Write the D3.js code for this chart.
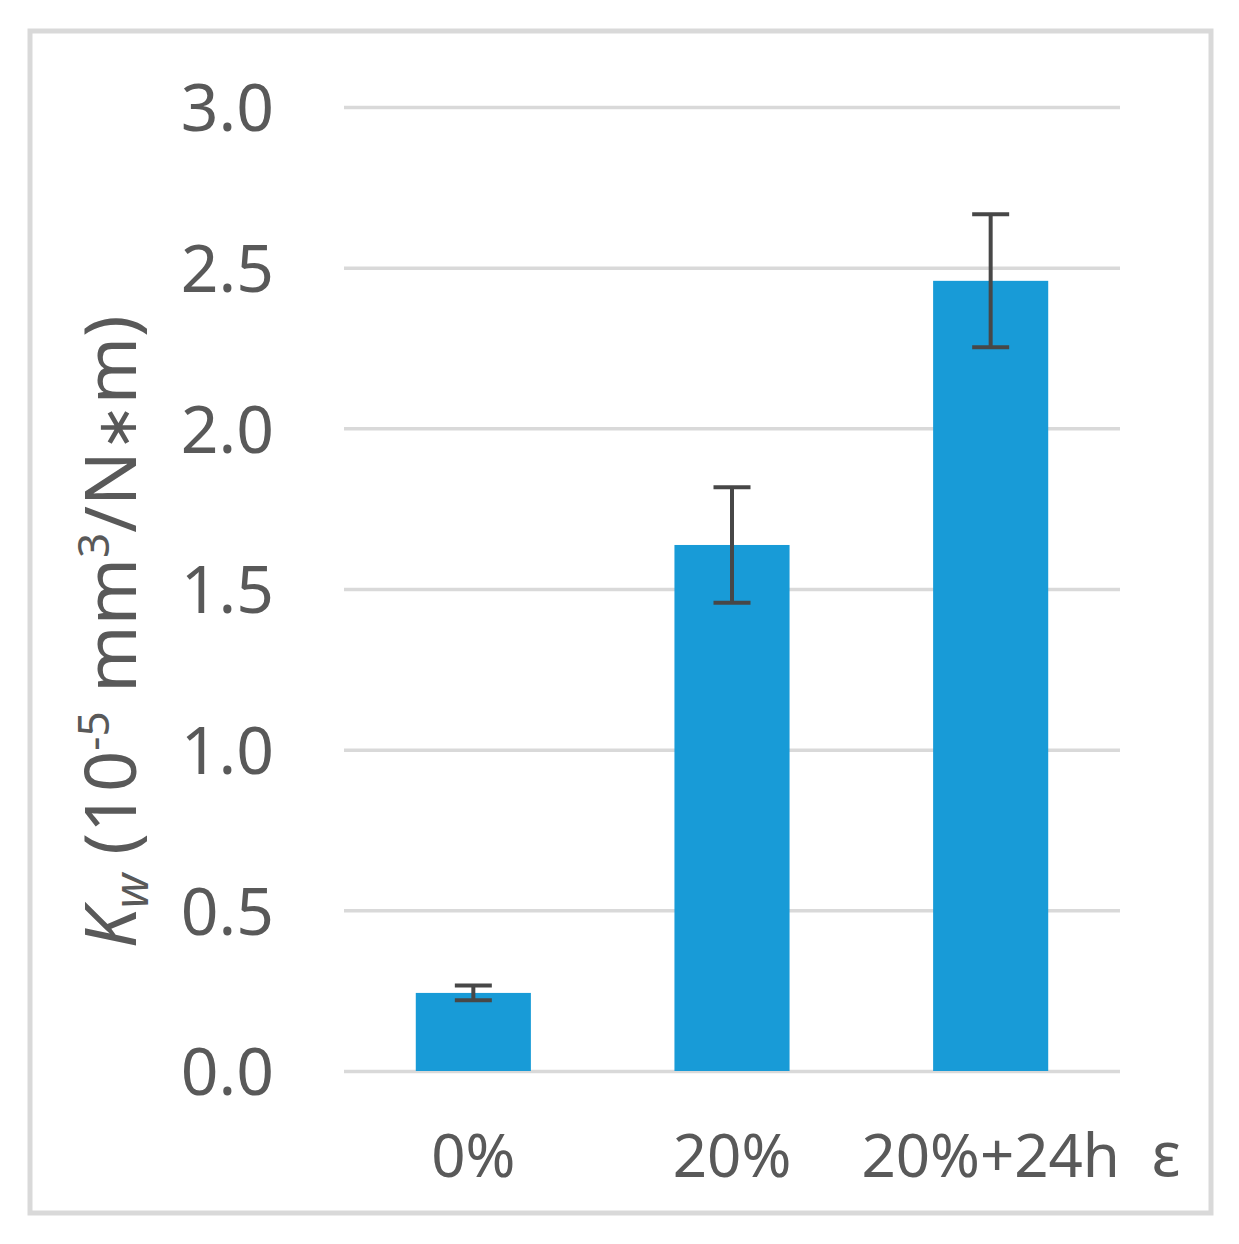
<!DOCTYPE html>
<html><head><meta charset="utf-8">
<script src="https://cdn.jsdelivr.net/npm/d3@7"></script>
<style>body{margin:0;background:#fff}</style>
</head><body>
<svg id="chart" width="1239" height="1244"></svg>
<script>
const categories = ["0%", "20%", "20%+24h"];
const values = [0.243, 1.637, 2.459];
const errors = [0.023, 0.18, 0.207];
const yTicks = [0, 0.5, 1.0, 1.5, 2.0, 2.5, 3.0];

const svg = d3.select("#chart");
const W = 1239, H = 1244;
const margin = {left: 344, right: 119, top: 107, bottom: 173};
const textColor = "#595959";
const font = "'Noto Sans', 'Open Sans', sans-serif";

// outer frame
svg.append("rect").attr("x", 30).attr("y", 31).attr("width", 1181).attr("height", 1182)
  .attr("fill", "#fff").attr("stroke", "#d9d9d9").attr("stroke-width", 5);

const x = d3.scaleBand().domain(categories).range([margin.left, W - margin.right])
  .paddingInner(0.555).paddingOuter(0.2775);
const y = d3.scaleLinear().domain([0, 3]).range([H - margin.bottom, margin.top]);

// grid
const yAxis = d3.axisLeft(y).tickValues(yTicks).tickFormat(d3.format(".1f"))
  .tickSize(-(W - margin.left - margin.right)).tickPadding(70);
const gy = svg.append("g").attr("transform", `translate(${margin.left},0)`).call(yAxis);
gy.select(".domain").remove();
gy.selectAll(".tick line").attr("stroke", "#d9d9d9").attr("stroke-width", 3.5);
gy.selectAll(".tick text").attr("fill", textColor).attr("font-family", font)
  .attr("font-size", 66).attr("dy", "0.36em");

// bars
svg.append("g").selectAll("rect").data(values).join("rect")
  .attr("x", (d, i) => x(categories[i]))
  .attr("width", x.bandwidth())
  .attr("y", d => y(d))
  .attr("height", d => y(0) - y(d))
  .attr("fill", "#189bd7");

// error bars
const capW = 37;
const eg = svg.append("g").attr("stroke", "#474747").attr("stroke-width", 4);
values.forEach((v, i) => {
  const cx = x(categories[i]) + x.bandwidth() / 2;
  eg.append("line").attr("x1", cx).attr("x2", cx).attr("y1", y(v + errors[i])).attr("y2", y(v - errors[i]));
  eg.append("line").attr("x1", cx - capW / 2).attr("x2", cx + capW / 2).attr("y1", y(v + errors[i])).attr("y2", y(v + errors[i]));
  eg.append("line").attr("x1", cx - capW / 2).attr("x2", cx + capW / 2).attr("y1", y(v - errors[i])).attr("y2", y(v - errors[i]));
});

// x axis labels
const xAxis = d3.axisBottom(x).tickSize(0).tickPadding(63);
const gx = svg.append("g").attr("transform", `translate(0,${y(0)})`).call(xAxis);
gx.select(".domain").remove();
gx.selectAll(".tick text").attr("fill", textColor).attr("font-family", font).attr("font-size", 60);

// epsilon
svg.append("text").attr("x", 1166).attr("y", 1176).attr("text-anchor", "middle")
  .attr("fill", textColor).attr("font-family", font).attr("font-size", 62).text("ε");

// y axis title
const t = svg.append("text").attr("transform", "translate(136,632) rotate(-90)")
  .attr("text-anchor", "middle").attr("fill", textColor).attr("font-family", font).attr("font-size", 72);
t.append("tspan").attr("font-style", "italic").text("K");
t.append("tspan").attr("font-style", "italic").attr("font-size", 48).attr("dy", 12).text("w");
t.append("tspan").attr("dy", -12).text(" (10");
t.append("tspan").attr("font-size", 44).attr("dy", -27).text("-5");
t.append("tspan").attr("dy", 27).text(" mm");
t.append("tspan").attr("font-size", 44).attr("dy", -27).text("3");
t.append("tspan").attr("dy", 27).text("/N");
t.append("tspan").attr("font-size", 56).text("\u2217");
t.append("tspan").text("m)");
</script>
</body></html>
